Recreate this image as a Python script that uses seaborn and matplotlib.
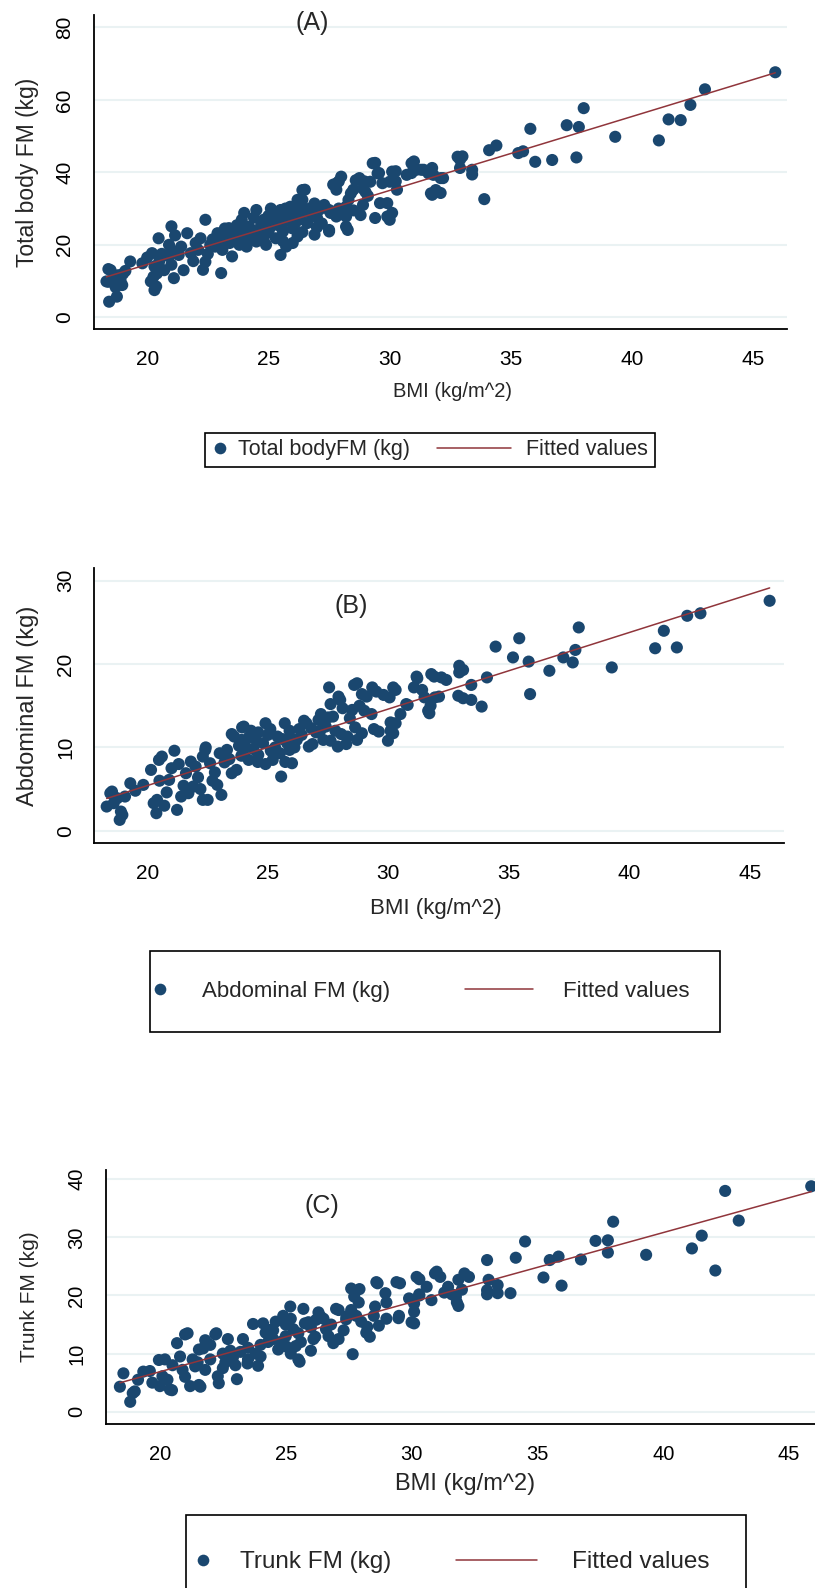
import matplotlib
matplotlib.use('Agg')
import numpy as np
import pandas as pd
import matplotlib.pyplot as plt
import seaborn as sns
from matplotlib.legend_handler import HandlerBase
from matplotlib.lines import Line2D

NAVY = '#1a476f'
MAROON = '#90353b'
GRID = '#eaf2f3'

# (BMI, fat mass) pairs
total_fm_pts = [
    (45.9, 67.6), (43.0, 62.9), (42.4, 58.6), (42.0, 54.4), (41.5, 54.6), (41.1, 48.8), (39.3, 49.8),
    (38.0, 57.7), (37.8, 52.5), (37.3, 53.0), (37.7, 44.1), (36.7, 43.4), (36.0, 42.9), (35.8, 52.0),
    (35.3, 45.3), (35.5, 45.8), (34.4, 47.4), (34.1, 46.1), (33.9, 32.6), (33.4, 39.4), (33.4, 40.7),
    (33.0, 44.4), (32.9, 43.5), (32.9, 41.2), (32.2, 38.4), (32.1, 34.3), (31.75, 33.8), (31.75, 41.2),
    (31.3, 40.7), (31.0, 43.0), (30.9, 39.8), (30.25, 40.3), (30.25, 37.5), (30.3, 35.2), (30.1, 28.8),
    (30.0, 26.9), (29.6, 31.5), (29.9, 31.5), (29.56, 39.8), (29.4, 42.6), (29.4, 27.4), (28.96, 37.5),
    (28.75, 38.4), (28.5, 35.2), (28.3, 32.4), (28.27, 24.1), (28.2, 27.8), (27.9, 37.5), (27.67, 36.6),
    (27.8, 35.2), (27.56, 28.8), (27.5, 24.1), (27.1, 29.7), (26.8, 28.3), (26.9, 22.8), (26.5, 35.2),
    (26.4, 32.4), (26.3, 30.6), (25.73, 19.5), (25.5, 17.2), (23.05, 12.2), (22.3, 13.1), (21.1, 10.8),
    (20.37, 8.5), (20.15, 9.9), (20.26, 11.2), (18.75, 5.7), (18.43, 4.3), (18.32, 9.9), (18.97, 8.9),
    (18.4, 13.3), (19.3, 15.4), (20.47, 21.8), (21.0, 25.1), (21.65, 23.2), (22.4, 26.9), (23.37, 24.6),
    (24.0, 28.8), (18.49, 13.0), (18.4, 9.8), (18.8, 11.6), (19.8, 14.9), (20.2, 17.7), (20.9, 20.0),
    (20.3, 7.5), (20.4, 12.1), (21.15, 22.6), (20.9, 16.8), (21.3, 17.2), (21.5, 13.0), (21.8, 17.7),
    (22.1, 18.6), (22.4, 15.3), (22.2, 21.8), (22.6, 20.0), (23.2, 24.5), (22.9, 23.2), (23.1, 18.6),
    (23.5, 16.8), (23.4, 20.5), (23.7, 25.4), (23.9, 26.9), (24.0, 22.3), (24.1, 19.5), (24.3, 24.1),
    (24.5, 29.6), (24.5, 20.9), (24.8, 26.9), (24.9, 23.2), (25.1, 30.0), (25.2, 26.0), (25.3, 21.8),
    (25.5, 29.6), (25.6, 23.7), (25.7, 30.0), (25.9, 26.9), (26.2, 32.4), (26.4, 35.1), (26.2, 22.3),
    (26.5, 29.1), (26.9, 31.4), (27.2, 25.9), (27.5, 29.6), (27.5, 23.7), (27.8, 36.9), (28.0, 38.8),
    (27.8, 27.8), (28.2, 25.0), (28.2, 30.5), (28.4, 34.2), (28.6, 37.8), (28.8, 28.2), (29.0, 34.6),
    (29.2, 37.4), (29.3, 42.5), (29.5, 39.7), (29.9, 27.8), (30.1, 40.2), (30.0, 37.4), (30.9, 42.5),
    (31.1, 40.7), (30.7, 39.3), (31.4, 40.7), (31.6, 39.7), (31.8, 39.3), (32.1, 38.4), (31.7, 34.2),
    (31.9, 35.1), (32.8, 44.3), (24.2, 25.0), (24.6, 24.0), (24.8, 21.5), (25.0, 23.5), (25.3, 27.5),
    (25.5, 25.0), (25.8, 28.0), (26.0, 24.5), (26.3, 27.0), (26.6, 26.0), (26.0, 20.5), (24.4, 27.5),
    (23.6, 22.0), (23.8, 20.0), (22.8, 19.5), (22.5, 17.5), (21.9, 15.5), (21.0, 14.5), (20.5, 15.5),
    (20.7, 13.0), (19.0, 12.0), (23.3, 22.0), (25.7, 26.5), (27.0, 27.5), (27.3, 31.0), (24.0, 23.0),
    (25.9, 30.5), (22.0, 20.5), (22.7, 21.5), (23.0, 21.0), (23.6, 23.5), (24.2, 21.5), (24.7, 25.5),
    (25.0, 28.0), (25.4, 28.5), (25.6, 27.0), (26.1, 28.5), (26.7, 30.0), (26.1, 26.0), (25.1, 25.0),
    (24.5, 22.5), (23.9, 24.5), (24.9, 20.0), (25.6, 21.0), (26.4, 23.5), (27.0, 24.8), (27.9, 30.0),
    (28.5, 29.5), (28.9, 31.0), (29.1, 33.5), (29.7, 37.0), (28.9, 35.5), (21.4, 19.5), (21.0, 18.5),
    (20.6, 17.5), (20.0, 16.5), (20.3, 14.0), (18.6, 10.5), (18.9, 10.2), (19.1, 12.8), (18.7, 8.3),
]

abdominal_fm_pts = [
    (45.82, 27.6), (42.95, 26.1), (42.4, 25.8), (41.43, 24.0), (41.97, 22.0), (41.07, 21.9), (39.27, 19.6),
    (37.9, 24.4), (37.76, 21.7), (37.65, 20.2), (37.26, 20.8), (36.68, 19.2), (35.88, 16.4), (35.82, 20.3),
    (35.17, 20.8), (35.43, 23.1), (34.45, 22.1), (34.09, 18.4), (33.87, 14.9), (33.44, 15.7), (33.44, 17.5),
    (32.94, 19.8), (32.94, 19.0), (32.9, 16.2), (32.2, 18.4), (31.78, 18.8), (31.65, 14.4), (31.75, 15.0),
    (31.93, 16.0), (31.17, 18.5), (31.06, 17.2), (30.74, 15.2), (30.2, 17.2), (30.05, 16.0), (30.09, 13.0),
    (30.09, 12.0), (29.98, 10.8), (29.4, 12.2), (29.33, 17.2), (28.9, 16.4), (28.58, 17.5), (29.0, 14.4),
    (28.62, 12.4), (28.25, 10.4), (28.04, 11.6), (27.93, 16.1), (27.54, 17.2), (27.6, 15.2), (27.5, 13.6),
    (27.17, 12.0), (27.6, 10.8), (26.85, 10.4), (26.5, 13.2), (26.1, 10.0), (25.72, 8.25), (25.55, 6.5),
    (25.12, 9.6), (24.58, 8.25), (23.93, 12.4), (23.5, 11.6), (23.7, 7.3), (23.07, 4.3), (22.42, 10.0),
    (22.3, 3.7), (21.12, 9.6), (21.23, 2.5), (20.37, 2.1), (20.26, 3.3), (20.15, 7.3), (20.48, 8.5),
    (19.29, 5.7), (19.83, 5.5), (18.85, 1.3), (18.96, 1.9), (18.31, 2.9), (18.53, 4.7), (18.75, 3.9),
    (19.07, 4.1), (18.46, 4.5), (18.6, 3.3), (18.9, 2.3), (20.4, 3.7), (20.6, 8.9), (20.9, 6.1),
    (21.4, 4.1), (21.6, 6.9), (21.9, 5.3), (22.0, 7.7), (22.4, 9.7), (22.5, 3.7), (22.6, 8.1),
    (23.3, 9.7), (23.5, 6.9), (23.9, 10.9), (23.6, 11.3), (24.0, 12.5), (24.2, 8.5), (24.5, 10.9),
    (24.6, 9.1), (24.9, 12.9), (25.2, 8.5), (25.4, 11.3), (25.7, 12.9), (25.9, 9.7), (26.0, 8.1),
    (26.2, 10.9), (26.6, 12.9), (26.7, 10.1), (27.1, 13.3), (27.3, 10.9), (27.7, 13.7), (27.9, 10.1),
    (28.0, 15.7), (28.1, 14.7), (28.3, 11.3), (28.5, 14.5), (28.7, 17.7), (28.7, 10.9), (28.9, 11.7),
    (29.1, 16.1), (29.5, 16.7), (29.6, 11.9), (29.8, 16.3), (30.2, 11.7), (30.3, 12.9), (30.3, 16.9),
    (30.8, 15.1), (31.2, 18.3), (31.4, 16.9), (31.7, 14.1), (31.9, 18.5), (32.1, 16.1), (32.4, 18.1),
    (33.1, 19.3), (33.1, 15.9), (24.8, 10.5), (25.0, 11.5), (25.3, 10.0), (25.6, 11.0), (24.4, 9.8),
    (23.9, 9.0), (23.2, 8.2), (22.8, 7.0), (22.1, 6.4), (21.5, 5.4), (20.8, 4.6), (20.5, 6.0),
    (26.4, 11.5), (26.8, 12.3), (27.4, 12.5), (24.2, 11.2), (25.9, 12.0), (21.8, 8.3), (22.2, 5.0),
    (21.0, 7.5), (21.3, 8.0), (22.3, 8.9), (22.7, 6.0), (23.0, 9.3), (23.4, 8.6), (23.8, 10.2),
    (24.1, 10.0), (24.6, 11.8), (25.1, 12.2), (25.5, 9.3), (25.8, 10.5), (26.3, 12.2), (26.0, 11.0),
    (27.0, 11.8), (27.2, 14.0), (28.4, 13.5), (28.8, 15.0), (27.8, 12.0), (29.3, 14.0), (30.5, 14.0),
    (31.5, 16.0), (22.9, 5.5), (21.7, 4.5), (20.7, 3.0), (19.5, 4.8), (24.3, 12.0), (24.9, 8.0),
]

trunk_fm_pts = [
    (45.88, 38.8), (42.46, 38.0), (43.0, 32.9), (41.53, 30.3), (41.14, 28.1), (42.07, 24.3), (39.32, 27.0),
    (38.01, 32.7), (37.8, 29.5), (37.8, 27.4), (37.31, 29.4), (36.73, 26.2), (35.96, 21.7), (35.84, 26.7),
    (35.49, 26.1), (35.24, 23.1), (34.51, 29.3), (34.14, 26.5), (33.93, 20.4), (33.42, 20.4), (33.42, 21.8),
    (33.06, 22.7), (33.0, 26.1), (33.0, 20.2), (32.28, 23.2), (31.86, 18.2), (31.76, 19.8), (31.86, 22.7),
    (31.45, 21.5), (31.14, 23.2), (30.93, 23.8), (30.79, 19.2), (30.31, 22.8), (30.31, 20.0), (30.1, 17.2),
    (30.1, 15.2), (30.1, 18.6), (29.54, 22.1), (29.48, 16.1), (28.96, 20.4), (28.65, 22.1), (28.55, 18.1),
    (28.34, 12.9), (28.24, 14.6), (27.93, 21.1), (27.72, 19.8), (27.66, 9.9), (27.41, 16.4), (27.1, 17.5),
    (26.89, 11.8), (26.38, 16.4), (26.17, 12.9), (25.76, 15.2), (25.55, 8.6), (25.18, 18.1), (25.03, 11.2),
    (24.41, 14.1), (24.1, 15.2), (23.48, 8.3), (23.06, 5.6), (22.34, 4.9), (22.24, 13.5), (21.72, 10.9),
    (21.61, 4.3), (21.1, 13.5), (20.68, 11.8), (20.48, 3.7), (19.96, 8.9), (19.34, 6.9), (18.92, 3.2),
    (18.82, 1.7), (18.41, 4.3), (18.55, 6.6), (19.13, 5.5), (19.0, 3.5), (20.1, 6.1), (20.2, 9.0),
    (20.0, 4.4), (20.4, 3.8), (21.0, 13.3), (20.9, 7.2), (21.2, 4.4), (21.3, 9.0), (21.55, 10.7),
    (21.55, 4.6), (21.8, 7.2), (22.2, 13.3), (22.3, 6.1), (22.5, 10.0), (22.7, 12.5), (22.9, 9.3),
    (23.3, 12.5), (23.5, 9.0), (23.7, 15.1), (23.9, 7.9), (24.2, 13.6), (24.5, 12.5), (24.7, 10.7),
    (24.9, 16.5), (25.3, 14.2), (25.4, 11.3), (25.5, 9.0), (25.7, 17.7), (25.9, 15.4), (26.1, 12.5),
    (26.3, 17.1), (26.6, 14.2), (27.0, 17.7), (27.1, 12.5), (27.4, 15.9), (27.6, 21.2), (27.9, 18.8),
    (28.2, 13.6), (28.6, 22.3), (28.7, 14.8), (29.0, 18.8), (29.4, 22.3), (29.5, 16.5), (30.2, 23.2),
    (30.0, 15.4), (30.3, 20.2), (31.0, 24.1), (31.6, 20.2), (31.8, 18.8), (32.1, 23.8), (33.0, 20.9),
    (24.5, 14.0), (25.0, 13.0), (25.5, 13.5), (26.0, 14.5), (26.5, 16.0), (24.0, 11.5), (23.5, 11.0),
    (22.8, 10.5), (22.0, 9.0), (21.5, 8.5), (20.5, 8.0), (24.8, 12.0), (26.8, 15.0), (27.8, 16.5),
    (25.2, 16.0), (23.0, 8.0), (21.0, 6.0), (19.6, 7.0), (22.5, 7.5), (21.4, 7.8), (22.6, 8.5),
    (23.2, 10.3), (23.8, 10.0), (24.3, 12.0), (24.6, 15.5), (25.0, 15.0), (25.6, 12.0), (26.2, 15.8),
    (26.7, 13.0), (27.3, 14.0), (27.6, 17.5), (28.0, 15.5), (28.5, 16.5), (29.0, 16.0), (29.9, 19.5),
    (30.6, 21.5), (31.3, 20.5), (32.0, 21.0), (22.0, 11.5), (21.8, 12.3), (20.8, 9.5), (20.3, 5.5),
    (19.7, 5.0), (24.0, 9.5), (26.0, 10.5), (25.2, 10.0),
]

bmi_ticks = [20, 25, 30, 35, 40, 45]
total_ticks = [0, 20, 40, 60, 80]
abdominal_ticks = [0, 10, 20, 30]
trunk_ticks = [0, 10, 20, 30, 40]

W, H = 815, 1588


class DotKey(HandlerBase):
    def __init__(self, dx, ms):
        super().__init__()
        self.dx, self.ms = dx, ms

    def create_artists(self, legend, orig_handle, xdescent, ydescent, width, height, fontsize, trans):
        dot = Line2D([self.dx - xdescent], [height / 2 - ydescent], marker='o', markersize=self.ms,
                     markerfacecolor=NAVY, markeredgecolor='none', linestyle='none', transform=trans)
        return [dot]


class LineKey(HandlerBase):
    def __init__(self, x0, x1):
        super().__init__()
        self.x0, self.x1 = x0, x1

    def create_artists(self, legend, orig_handle, xdescent, ydescent, width, height, fontsize, trans):
        y = height / 2 - ydescent
        ln = Line2D([self.x0 - xdescent, self.x1 - xdescent], [y, y], color=MAROON, lw=1.1, transform=trans)
        return [ln]


def px_rect(l, t, r, b):
    return [l / W, 1 - b / H, (r - l) / W, (b - t) / H]


def plot_panel(fig, rect, pts, name, yticks, xlim, ylim, letter, letter_xy, lab_x, lab_y,
               tick_fs, xlab_fs, ylab_fs, leg):
    ax = fig.add_axes(px_rect(*rect))
    df = pd.DataFrame(pts, columns=['bmi', 'fm'])
    ax.grid(False)
    for t in yticks:
        ax.axhline(t, color=GRID, lw=1.5, zorder=0)
    sns.scatterplot(data=df, x='bmi', y='fm', ax=ax, s=76, color=NAVY, edgecolor='none',
                    linewidth=0, zorder=2)
    sns.regplot(data=df, x='bmi', y='fm', ax=ax, scatter=False, ci=None, color=MAROON,
                line_kws={'lw': 1.1, 'zorder': 3})
    ax.set_xlim(*xlim)
    ax.set_ylim(*ylim)
    ax.set_xticks(bmi_ticks)
    ax.set_yticks(yticks)
    sns.despine(ax=ax)
    for s in ['left', 'bottom']:
        ax.spines[s].set_color('black')
        ax.spines[s].set_linewidth(1.3)
    ax.tick_params(axis='both', direction='out', length=5.5, width=1.1, color='black',
                   labelsize=tick_fs, labelcolor='black')
    ax.tick_params(axis='x', pad=9.5)
    ax.tick_params(axis='y', pad=8.5, labelrotation=90)
    for lbl in ax.get_yticklabels():
        lbl.set_va('center')
    ax.set_xlabel('BMI (kg/m^2)', fontsize=xlab_fs)
    ax.set_ylabel(name, fontsize=ylab_fs)
    ax.xaxis.set_label_coords(*lab_x)
    ax.yaxis.set_label_coords(*lab_y)
    ax.text(letter_xy[0], letter_xy[1], letter, ha='center', va='center', fontsize=18)

    dots, fit = ax.collections[0], ax.lines[0]
    lg = ax.legend([dots, fit], [leg['label'], 'Fitted values'], ncol=2, loc='upper left',
                   bbox_to_anchor=(leg['x'] / W, 1 - leg['y'] / H), bbox_transform=fig.transFigure,
                   borderaxespad=0, fontsize=leg['fs'], frameon=True, fancybox=False,
                   edgecolor='black', framealpha=1, handlelength=0, borderpad=leg['bp'],
                   handletextpad=leg['htp'], columnspacing=leg['cs'],
                   handler_map={dots: DotKey(leg['dx'], 8.4), fit: LineKey(*leg['line'])})
    lg.get_frame().set_linewidth(1.2)
    return ax


sns.set_style('white')
plt.rcParams['font.family'] = ['Liberation Sans', 'DejaVu Sans']

fig = plt.figure(figsize=(W / 100, H / 100), dpi=100)

plot_panel(fig, (93.85, 15.0, 787.4, 328.9), total_fm_pts, 'Total body FM (kg)', total_ticks,
           (17.8, 46.4), (-3.2, 83.4), '(A)', (26.8, 81.1), (0.517, -0.169), (-0.079, 0.5),
           15, 14.5, 16.5,
           dict(label='Total bodyFM (kg)', x=205, y=433, fs=15.5, bp=0.30, htp=1.23, cs=4.18,
                dx=5.9, line=(-45.0, 8.2)))

plot_panel(fig, (94.4, 568.3, 783.6, 843.2), abdominal_fm_pts, 'Abdominal FM (kg)', abdominal_ticks,
           (17.8, 46.4), (-1.5, 31.5), '(B)', (28.44, 26.96), (0.496, -0.199), (-0.080, 0.5),
           15, 16, 17,
           dict(label='Abdominal FM (kg)', x=150, y=951, fs=16, bp=1.35, htp=1.01, cs=6.75,
                dx=-14.4, line=(-54.6, -5.8)))

plot_panel(fig, (105.8, 1170.0, 815, 1423.9), trunk_fm_pts, 'Trunk FM (kg)', trunk_ticks,
           (17.85, 46.03), (-2.1, 41.6), '(C)', (26.44, 35.4), (0.506, -0.193), (-0.094, 0.5),
           14.5, 17, 15,
           dict(label='Trunk FM (kg)', x=186, y=1515, fs=17.5, bp=1.50, htp=0.725, cs=6.72,
                dx=-14.3, line=(-71.1, -12.8)))

fig.savefig('out.png', dpi=100)
